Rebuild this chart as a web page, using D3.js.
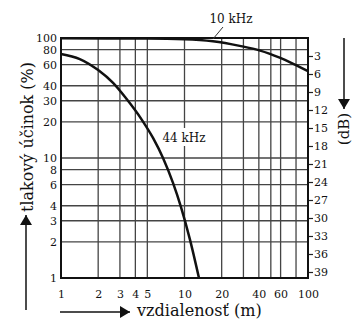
<!DOCTYPE html>
<html lang="sk">
<head>
<meta charset="utf-8">
<script src="https://d3js.org/d3.v7.min.js"></script>
<style>
  body { margin: 0; background: #fff; }
  svg text { font-family: "DejaVu Serif", serif; fill: #111; }
</style>
</head>
<body>
<svg width="352" height="322"></svg>
<script>
// axis values
const distTicks = [1, 2, 3, 4, 5, 10, 20, 40, 60, 100];
const distGrid = [2, 3, 4, 5, 10, 20, 30, 40, 50, 60, 80];
const pctTicks = [1, 2, 3, 4, 6, 8, 10, 20, 30, 40, 60, 80, 100];
const dbTicks = [3, 6, 9, 12, 15, 18, 21, 24, 27, 30, 33, 36, 39];

// 10 kHz curve
const dist10k = [1, 5, 10, 17, 28, 41, 59, 76, 100];
const pct10k = [99.3, 99, 97.8, 94, 86, 78.5, 68.5, 61, 53];

// 44 kHz curve
const dist44k = [1, 1.42, 2, 2.64, 3.3, 4.53, 5.56, 6.7, 8.07, 9.37, 11.1, 13.1];
const pct44k = [73.6, 66.8, 54, 42.2, 32.2, 20.7, 14.7, 10, 6.2, 3.9, 2.07, 1];

const svg = d3.select("svg");
const pLeft = 61, pRight = 308, pTop = 38, pBottom = 278;

const x = d3.scaleLog().domain([1, 100]).range([pLeft, pRight]);
const y = d3.scaleLog().domain([1, 100]).range([pBottom, pTop]);
const yDb = d3.scaleLinear().domain([0, 40]).range([pTop, pBottom]);

// grid
svg.append("g").selectAll("line")
  .data(distGrid).enter().append("line")
  .attr("x1", d => x(d)).attr("x2", d => x(d))
  .attr("y1", pTop).attr("y2", pBottom)
  .style("stroke", "#444").style("stroke-width", 1.3);

svg.append("g").selectAll("line")
  .data(pctTicks.filter(d => d > 1 && d < 100)).enter().append("line")
  .attr("x1", pLeft).attr("x2", pRight)
  .attr("y1", d => y(d)).attr("y2", d => y(d))
  .style("stroke", "#444").style("stroke-width", 1.3);

// axes
const axL = svg.append("g")
  .attr("transform", `translate(${pLeft},0)`)
  .call(d3.axisLeft(y).tickValues(pctTicks).tickFormat(d3.format("d")).tickSize(0).tickPadding(4));
const axB = svg.append("g")
  .attr("transform", `translate(0,${pBottom})`)
  .call(d3.axisBottom(x).tickValues(distTicks).tickFormat(d3.format("d")).tickSize(0).tickPadding(12));
const axR = svg.append("g")
  .attr("transform", `translate(${pRight},0)`)
  .call(d3.axisRight(yDb).tickValues(dbTicks).tickSize(5).tickPadding(1));

[axL, axB, axR].forEach(a => {
  a.select(".domain").remove();
  a.selectAll("text").style("font-size", "11px").style("font-family", "DejaVu Serif");
});
axR.selectAll("line").style("stroke", "#222").style("stroke-width", 1.2);

// frame
svg.append("rect")
  .attr("x", pLeft).attr("y", pTop)
  .attr("width", pRight - pLeft).attr("height", pBottom - pTop)
  .style("fill", "none").style("stroke", "#111").style("stroke-width", 2);

// curves
const line = d3.line()
  .x(d => x(d[0])).y(d => y(d[1]))
  .curve(d3.curveMonotoneX);

svg.append("path")
  .datum(d3.zip(dist10k, pct10k))
  .attr("d", line)
  .style("fill", "none").style("stroke", "#111").style("stroke-width", 2.5);

svg.append("path")
  .datum(d3.zip(dist44k, pct44k))
  .attr("d", line)
  .style("fill", "none").style("stroke", "#111").style("stroke-width", 2.5);

// curve labels
svg.append("rect")
  .attr("x", 161).attr("y", 128).attr("width", 46).attr("height", 18)
  .style("fill", "#fff");
svg.append("text")
  .attr("x", 184).attr("y", 142).attr("text-anchor", "middle")
  .style("font-size", "12px").text("44 kHz");

svg.append("text")
  .attr("x", 231).attr("y", 23).attr("text-anchor", "middle")
  .style("font-size", "12px").text("10 kHz");
svg.append("line")
  .attr("x1", 223).attr("y1", 27).attr("x2", 213).attr("y2", 39)
  .style("stroke", "#333").style("stroke-width", 1);

// arrows
svg.append("defs").append("marker")
  .attr("id", "arr")
  .attr("viewBox", "0 -6 10 12")
  .attr("refX", 10).attr("refY", 0)
  .attr("markerWidth", 10).attr("markerHeight", 12)
  .attr("markerUnits", "userSpaceOnUse")
  .attr("orient", "auto")
  .append("path").attr("d", "M0,-6L10,0L0,6Z").style("fill", "#111");

function arrow(x1, y1, x2, y2) {
  svg.append("line")
    .attr("x1", x1).attr("y1", y1).attr("x2", x2).attr("y2", y2)
    .style("stroke", "#111").style("stroke-width", 1.5)
    .attr("marker-end", "url(#arr)");
}
arrow(26, 310, 26, 215);
arrow(60, 312, 130, 312);
arrow(344, 38, 344, 109);

// axis titles, font size fitted to the length seen in the picture
function fit(sel, target) {
  const len = sel.node().getComputedTextLength();
  sel.style("font-size", (15 * target / len).toFixed(2) + "px");
}

const tY = svg.append("text")
  .attr("transform", "translate(33,137) rotate(-90)")
  .attr("text-anchor", "middle")
  .style("font-size", "15px").text("tlakový účinok (%)");
fit(tY, 150);

const tX = svg.append("text")
  .attr("x", 137).attr("y", 316)
  .style("font-size", "15px").text("vzdialenosť (m)");
fit(tX, 125);

svg.append("text")
  .attr("transform", "translate(349,129) rotate(-90)")
  .attr("text-anchor", "middle")
  .style("font-size", "15px").text("(dB)");
</script>
</body>
</html>
